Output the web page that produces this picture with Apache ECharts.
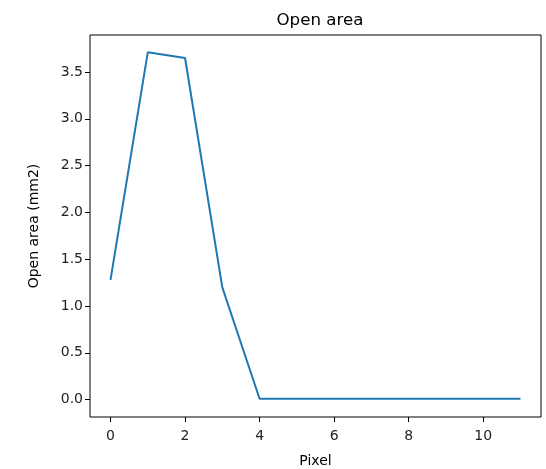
<!DOCTYPE html>
<html>
<head>
<meta charset="utf-8">
<script src="https://cdn.jsdelivr.net/npm/echarts@6/dist/echarts.min.js"></script>
<style>html,body{margin:0;padding:0;background:#fff;}#c{width:546px;height:469px;}</style>
</head>
<body>
<div id="c"></div>
<script>
const pixels = [0, 1, 2, 3, 4, 5, 6, 7, 8, 9, 10, 11];
const openArea = [1.28, 3.71, 3.65, 1.2, 0.01, 0.01, 0.01, 0.01, 0.01, 0.01, 0.01, 0.01];
const xTicks = [0, 2, 4, 6, 8, 10];
const yTicks = [0, 0.5, 1, 1.5, 2, 2.5, 3, 3.5];

const font = 'DejaVu Sans';
const chart = echarts.init(document.getElementById('c'));
const xr = pixels[pixels.length - 1] - pixels[0];
const ymax = Math.max(...openArea), ymin = Math.min(0, ...openArea);
const yr = ymax - ymin;
chart.setOption({
  animation: false,
  title: {
    text: 'Open area', left: 315, top: 7, textAlign: 'center',
    textStyle: { fontFamily: font, fontSize: 16.7, fontWeight: 'normal', color: '#000' }
  },
  grid: { left: 90, top: 35, right: 5, bottom: 52, show: true, borderColor: '#000', borderWidth: 1, backgroundColor: '#fff', containLabel: false, outerBoundsMode: 'none' },
  xAxis: {
    type: 'value', min: pixels[0] - 0.05 * xr, max: pixels[pixels.length - 1] + 0.05 * xr,
    name: 'Pixel', nameLocation: 'middle', nameGap: 37,
    nameTextStyle: { fontFamily: font, fontSize: 14, color: '#000', verticalAlign: 'top' },
    axisLine: { show: false, onZero: false },
    splitLine: { show: false },
    axisTick: { show: true, length: 5, lineStyle: { color: '#000' }, customValues: xTicks },
    axisLabel: { fontFamily: font, fontSize: 14, color: '#222', margin: 12, customValues: xTicks, formatter: v => String(v) }
  },
  yAxis: {
    type: 'value', min: ymin - 0.05 * yr, max: ymax + 0.05 * yr,
    name: 'Open area (mm2)', nameLocation: 'middle', nameGap: 49,
    nameTextStyle: { fontFamily: font, fontSize: 14, color: '#000', verticalAlign: 'bottom' },
    axisLine: { show: false, onZero: false },
    splitLine: { show: false },
    axisTick: { show: true, length: 5, lineStyle: { color: '#000' }, customValues: yTicks },
    axisLabel: { fontFamily: font, fontSize: 14, color: '#222', margin: 7, customValues: yTicks, formatter: v => v.toFixed(1) }
  },
  series: [{
    type: 'line', data: pixels.map((p, i) => [p, openArea[i]]),
    showSymbol: false, lineStyle: { color: '#1f77b4', width: 2 }, itemStyle: { color: '#1f77b4' }
  }]
});
</script>
</body>
</html>
